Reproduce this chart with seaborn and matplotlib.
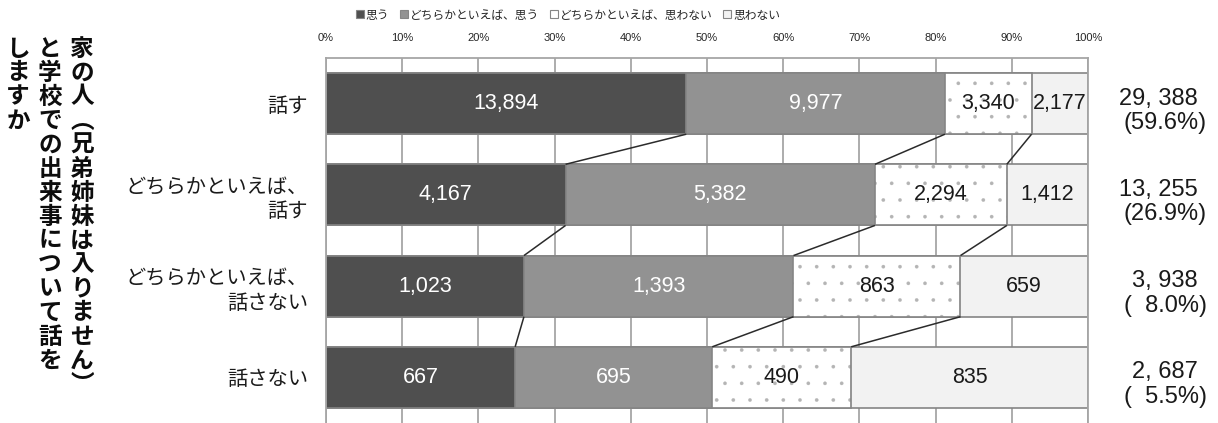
import matplotlib
matplotlib.use("Agg")
import matplotlib.pyplot as plt
import matplotlib.transforms as mtransforms
from matplotlib.patches import Patch
import numpy as np
import pandas as pd
import seaborn as sns

# ---- data -------------------------------------------------------------
categories = ["話す", "どちらかといえば、\n話す", "どちらかといえば、\n話さない", "話さない"]
series_names = ["思う", "どちらかといえば、思う", "どちらかといえば、思わない", "思わない"]
omou = [13894, 4167, 1023, 667]
yaya_omou = [9977, 5382, 1393, 695]
yaya_omowanai = [3340, 2294, 863, 490]
omowanai = [2177, 1412, 659, 835]
row_totals = [29388, 13255, 3938, 2687]
row_shares = [59.6, 26.9, 8.0, 5.5]
tick_values = [0, 10, 20, 30, 40, 50, 60, 70, 80, 90, 100]
tick_labels = ["0%", "10%", "20%", "30%", "40%", "50%", "60%", "70%", "80%", "90%", "100%"]
title_columns = ["家の人︵兄弟姉妹は入りません︶", "と学校での出来事について話を", "しますか"]

# ---- style ------------------------------------------------------------
sns.set_theme(style="white")
JP = "Noto Sans CJK JP"
NUM = ["Liberation Sans", "DejaVu Sans"]
plt.rcParams["font.family"] = [JP, "DejaVu Sans"]
plt.rcParams["hatch.linewidth"] = 0.2

fill_colors = ["#4f4f4f", "#929292", "#ffffff", "#f2f2f2"]
text_colors = ["white", "white", "#1a1a1a", "#1a1a1a"]
edge_color = "#858585"
dot_color = "#b4b4b4"
bar_h = 0.67

counts = np.array([omou, yaya_omou, yaya_omowanai, omowanai], dtype=float)  # series x rows
pct = counts / counts.sum(axis=0) * 100
cum = np.cumsum(pct, axis=0)

W, H = 1218, 423
fig = plt.figure(figsize=(W / 100, H / 100), dpi=100)
ax = fig.add_axes([326 / W, 0.0, 762 / W, 365 / H])

# stacked bars: draw cumulative layers from the outermost inward
for k in range(3, -1, -1):
    df = pd.DataFrame({"category": categories, "value": cum[k]})
    common = dict(data=df, x="value", y="category", order=categories, orient="h",
                  width=bar_h, ax=ax, zorder=2)
    if k == 2:
        # dotted fill (dots take the edge colour), then a gray outline on top
        sns.barplot(color=fill_colors[k], saturation=1, hatch=".",
                    edgecolor=dot_color, linewidth=0.3, **common)
        sns.barplot(color=edge_color, fill=False, linewidth=1.2, **common)
    else:
        sns.barplot(color=fill_colors[k], saturation=1,
                    edgecolor=edge_color, linewidth=1.2, **common)

# value labels inside each segment
for k in range(4):
    for i in range(4):
        left = cum[k - 1][i] if k > 0 else 0.0
        ax.text((left + cum[k][i]) / 2, i, f"{int(counts[k][i]):,}",
                ha="center", va="center", color=text_colors[k],
                fontsize=15.5, family=NUM, zorder=4)

# connector lines between adjacent bars
for i in range(3):
    for k in range(3):
        ax.plot([cum[k][i], cum[k][i + 1]], [i + bar_h / 2, i + 1 - bar_h / 2],
                color="#2b2b2b", lw=1.1, zorder=3, solid_capstyle="butt")

# axes
ax.set_xlim(0, 100)
ax.set_ylim(3.5, -0.5)
ax.set_xlabel("")
ax.set_ylabel("")
ax.xaxis.tick_top()
ax.set_xticks(tick_values)
ax.set_xticklabels(tick_labels, family=NUM, fontsize=8, color="#262626")
ax.tick_params(axis="x", length=0, pad=11)
ax.tick_params(axis="y", length=0, pad=13)
for lbl in ax.get_yticklabels():
    lbl.set_fontsize(14.6)
    lbl.set_family(JP)
    lbl.set_color("#1a1a1a")
    lbl.set_ha("right")
    lbl.set_linespacing(1.25)
ax.set_axisbelow(True)
ax.grid(axis="x", color="#a6a6a6", lw=1.3, zorder=0)
ax.grid(axis="y", visible=False)
for side, sp in ax.spines.items():
    sp.set_visible(side in ("top", "left", "right"))
    sp.set_color("#a6a6a6")
    sp.set_linewidth(1.3)

# row totals on the right
trans = mtransforms.blended_transform_factory(fig.transFigure, ax.transData)
for i in range(4):
    ax.text(1198 / W, i - 0.055, f"{row_totals[i]:,}".replace(",", ", "),
            transform=trans, ha="right", va="center", fontsize=17,
            family=NUM, color="#1a1a1a")
    share = f"{row_shares[i]:4.1f}".replace(" ", "\u2007")
    ax.text(1207 / W, i + 0.215, f"({share}%)",
            transform=trans, ha="right", va="center", fontsize=17,
            family=NUM, color="#1a1a1a")

# legend
handles = [Patch(facecolor=fill_colors[k], edgecolor=edge_color, lw=0.8)
           for k in range(4)]
fig.legend(handles, series_names, loc="center", bbox_to_anchor=(568 / W, 1 - 15 / H),
           ncol=4, frameon=False, handlelength=0.7, handleheight=0.7,
           handletextpad=0.15, columnspacing=0.9, labelcolor="#262626",
           prop={"family": [JP], "size": 8.5})

# vertical title, one column per line, read right to left
col_x = [82, 50, 18]
for col, text in enumerate(title_columns):
    for j, ch in enumerate(text):
        fig.text(col_x[col] / W, 1 - (48.5 + 24.0 * j) / H, ch,
                 ha="center", va="center", fontsize=17, fontweight="bold",
                 family=JP, color="#0d0d0d")

fig.savefig("out.png", dpi=100)
